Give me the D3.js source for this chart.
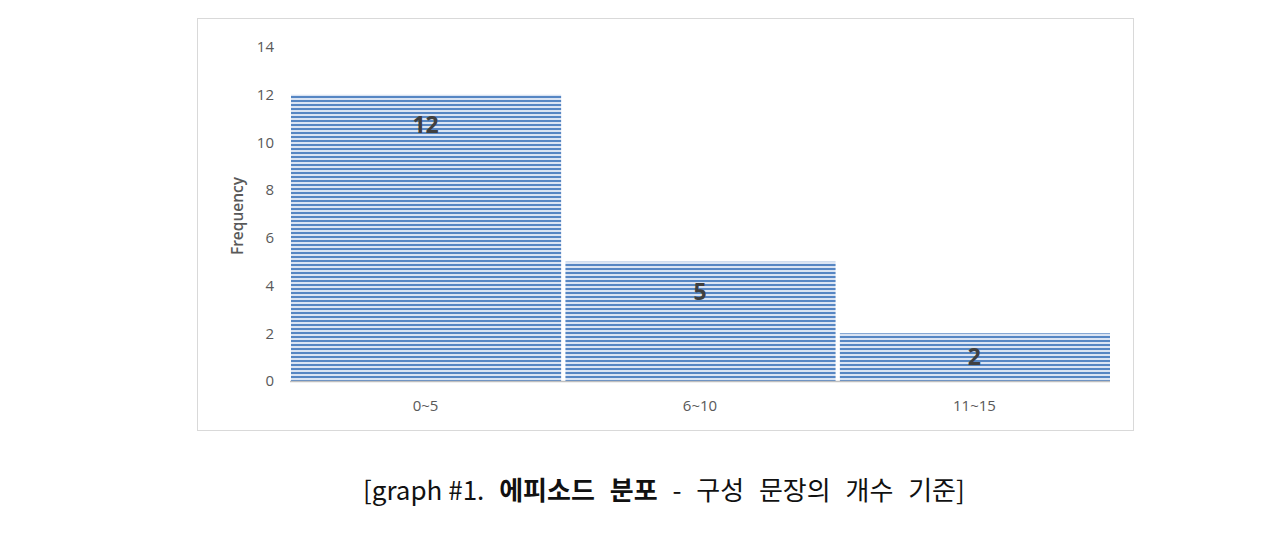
<!DOCTYPE html>
<html><head><meta charset="utf-8">
<script src="https://cdn.jsdelivr.net/npm/d3@7"></script>
<style>body{margin:0;background:#fff;}svg{display:block;}</style>
</head><body>
<svg id="c" width="1280" height="534"></svg>
<script>
const categories = ["0~5", "6~10", "11~15"];
const values = [12, 5, 2];
const yTicks = [0, 2, 4, 6, 8, 10, 12, 14];
const yTitle = "Frequency";

(function(){
const svg = d3.select("#c");
const defs = svg.append("defs");
const pat = defs.append("pattern").attr("id","stripes").attr("patternUnits","userSpaceOnUse")
  .attr("width", 8).attr("height", 4);
pat.append("rect").attr("width",8).attr("height",4).attr("fill","#dae4f3");
pat.append("rect").attr("y",0).attr("width",8).attr("height",2).attr("fill","#5686c3");

svg.append("rect").attr("x",197.5).attr("y",18.5).attr("width",936).attr("height",412)
  .attr("fill","#fff").attr("stroke","#d9d9d9");

const pL = 290, pR = 1110, pT = 47, pB = 381;
const x = d3.scaleBand().domain(categories).range([pL, pR]).paddingInner(0.012).paddingOuter(0);
const y = d3.scaleLinear().domain([0, 14]).range([pB, pT]);

svg.selectAll("rect.bar").data(values).enter().append("rect").attr("class","bar")
  .attr("x",(d,i)=>x(categories[i])+1).attr("width",x.bandwidth()-1)
  .attr("y",d=>y(d)).attr("height",d=>y(0)-y(d))
  .attr("fill","url(#stripes)");

svg.append("line").attr("x1",pL).attr("x2",pR).attr("y1",pB+0.5).attr("y2",pB+0.5)
  .attr("stroke","#bfbfbf").attr("stroke-width",1.5);

svg.selectAll("text.val").data(values).enter().append("text").attr("class","val")
  .attr("x",(d,i)=>x(categories[i])+x.bandwidth()/2)
  .attr("y",d=>y(d)+Math.min(30,(y(0)-y(d))/2))
  .attr("dy","0.36em").attr("text-anchor","middle")
  .attr("font-family","Open Sans, Noto Sans, sans-serif").attr("font-weight","bold")
  .attr("font-size",23).attr("fill","#404040").text(d=>d);

const yAxis = d3.axisLeft(y).tickValues(yTicks).tickSize(0).tickPadding(0);
const ga = svg.append("g").attr("transform",`translate(274,0)`).call(yAxis);
ga.select(".domain").remove();
ga.selectAll("text").attr("font-family","Open Sans, Noto Sans, sans-serif").attr("font-size",15).attr("fill","#595959");

const xAxis = d3.axisBottom(x).tickSize(0).tickPadding(0);
const gx = svg.append("g").attr("transform",`translate(0,400)`).call(xAxis);
gx.select(".domain").remove();
gx.selectAll("text").attr("font-family","Open Sans, Noto Sans, sans-serif").attr("font-size",15).attr("fill","#595959");

svg.append("text").attr("transform","translate(243,216) rotate(-90)").attr("text-anchor","middle")
  .attr("font-family","Open Sans, Noto Sans, sans-serif").attr("font-size",15.5).attr("font-weight","600")
  .attr("fill","#595959").text(yTitle);

const cap = svg.append("text").attr("x",363).attr("y",500).attr("text-anchor","start")
  .attr("font-family","'Noto Sans CJK KR', sans-serif").attr("font-size",26).attr("fill","#111")
  .attr("word-spacing",9).attr("xml:space","preserve");
cap.append("tspan").attr("word-spacing",0).text("[graph #1.");
cap.append("tspan").text(" ");
cap.append("tspan").attr("font-weight","bold").text("에피소드 분포");
cap.append("tspan").text(" - 구성 문장의 개수 기준]");
})();
</script>
</body></html>
